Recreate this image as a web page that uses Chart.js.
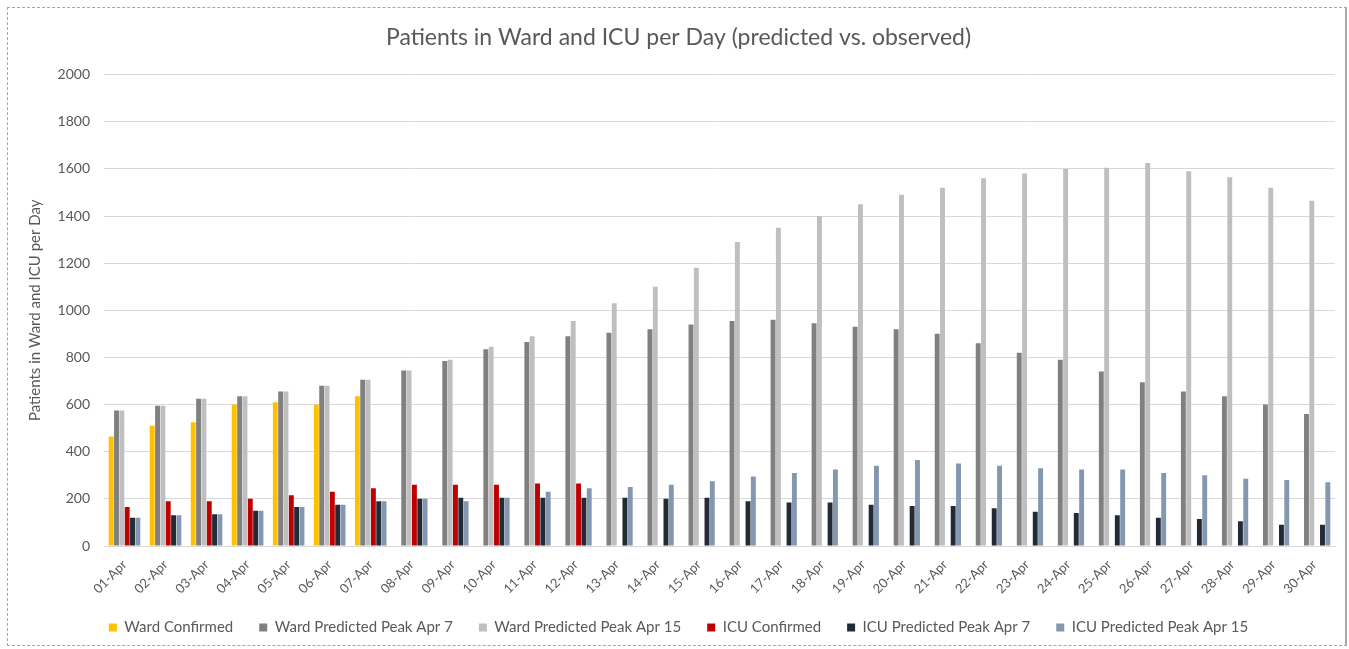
<!DOCTYPE html>
<html>
<head>
<meta charset="utf-8">
<script src="https://cdn.jsdelivr.net/npm/chart.js@4"></script>
<style>
  html, body { margin: 0; padding: 0; background: #fff; }
  #frame {
    position: absolute; left: 7px; top: 7px;
    width: 1337px; height: 637px;
    border: 1px dashed #a6a6a6;
    border-right: 2px solid #a6a6a6;
  }
  canvas { display: block; }
</style>
</head>
<body>
<div id="frame"><canvas id="chart" width="1337" height="637"></canvas></div>
<script>
const days = [];
for (let d = 1; d <= 30; d++) days.push(String(d).padStart(2, '0') + '-Apr');

const wardConfirmed = [465, 510, 525, 600, 610, 600, 635, null, null, null, null, null, null, null, null,
  null, null, null, null, null, null, null, null, null, null, null, null, null, null, null];
const wardPeakApr7 = [575, 595, 625, 635, 655, 680, 705, 745, 785, 835, 865, 890, 905, 920, 940,
  955, 960, 945, 930, 920, 900, 860, 820, 790, 740, 695, 655, 635, 600, 560];
const wardPeakApr15 = [575, 595, 625, 635, 655, 680, 705, 745, 790, 845, 890, 955, 1030, 1100, 1180,
  1290, 1350, 1400, 1450, 1490, 1520, 1560, 1580, 1600, 1605, 1625, 1590, 1565, 1520, 1465];
const icuConfirmed = [165, 190, 190, 200, 215, 230, 245, 260, 260, 260, 265, 265, null, null, null,
  null, null, null, null, null, null, null, null, null, null, null, null, null, null, null];
const icuPeakApr7 = [120, 130, 135, 150, 165, 175, 190, 200, 205, 205, 205, 205, 205, 200, 205,
  190, 185, 185, 175, 170, 170, 160, 145, 140, 130, 120, 115, 105, 90, 90];
const icuPeakApr15 = [120, 130, 135, 150, 165, 175, 190, 200, 190, 205, 230, 245, 250, 260, 275,
  295, 310, 325, 340, 365, 350, 340, 330, 325, 325, 310, 300, 285, 280, 270];

const FONT = 'Lato, "Open Sans", sans-serif';
const TXT = '#595959';

function series(label, data, color) {
  return { label, data, backgroundColor: color, borderWidth: 0,
    categoryPercentage: 0.78, barPercentage: 0.92 };
}

new Chart(document.getElementById('chart'), {
  type: 'bar',
  data: {
    labels: days,
    datasets: [
      series('Ward Confirmed', wardConfirmed, '#FFC000'),
      series('Ward Predicted Peak Apr 7', wardPeakApr7, '#808080'),
      series('Ward Predicted Peak Apr 15', wardPeakApr15, '#BFBFBF'),
      series('ICU Confirmed', icuConfirmed, '#C00000'),
      series('ICU Predicted Peak Apr 7', icuPeakApr7, '#222A35'),
      series('ICU Predicted Peak Apr 15', icuPeakApr15, '#8497B0')
    ]
  },
  options: {
    responsive: false,
    animation: false,
    layout: { padding: { left: 14, right: 10, top: 0, bottom: 0 } },
    plugins: {
      title: {
        display: true,
        text: 'Patients in Ward and ICU per Day (predicted vs. observed)',
        color: TXT,
        font: { family: FONT, size: 23, weight: 'normal' },
        padding: { top: 16, bottom: 23 }
      },
      legend: {
        position: 'bottom',
        labels: {
          color: TXT,
          font: { family: FONT, size: 15 },
          boxWidth: 8, boxHeight: 8,
          padding: 26
        }
      },
      tooltip: { enabled: false }
    },
    scales: {
      x: {
        grid: { display: false },
        border: { color: '#d9d9d9' },
        ticks: {
          color: TXT, font: { family: FONT, size: 13 },
          maxRotation: 45, minRotation: 45, autoSkip: false
        },
        afterFit: s => { s.height = 48; }
      },
      y: {
        min: 0, max: 2000,
        ticks: { stepSize: 200, color: TXT, font: { family: FONT, size: 14 }, padding: 14,
          callback: v => String(v) },
        grid: { color: '#d9d9d9', drawTicks: false },
        border: { display: false },
        title: {
          display: true,
          text: 'Patients in Ward and ICU per Day',
          color: TXT,
          font: { family: FONT, size: 15 }
        },
        afterFit: s => { s.width = 82; }
      }
    }
  }
});
</script>
</body>
</html>
